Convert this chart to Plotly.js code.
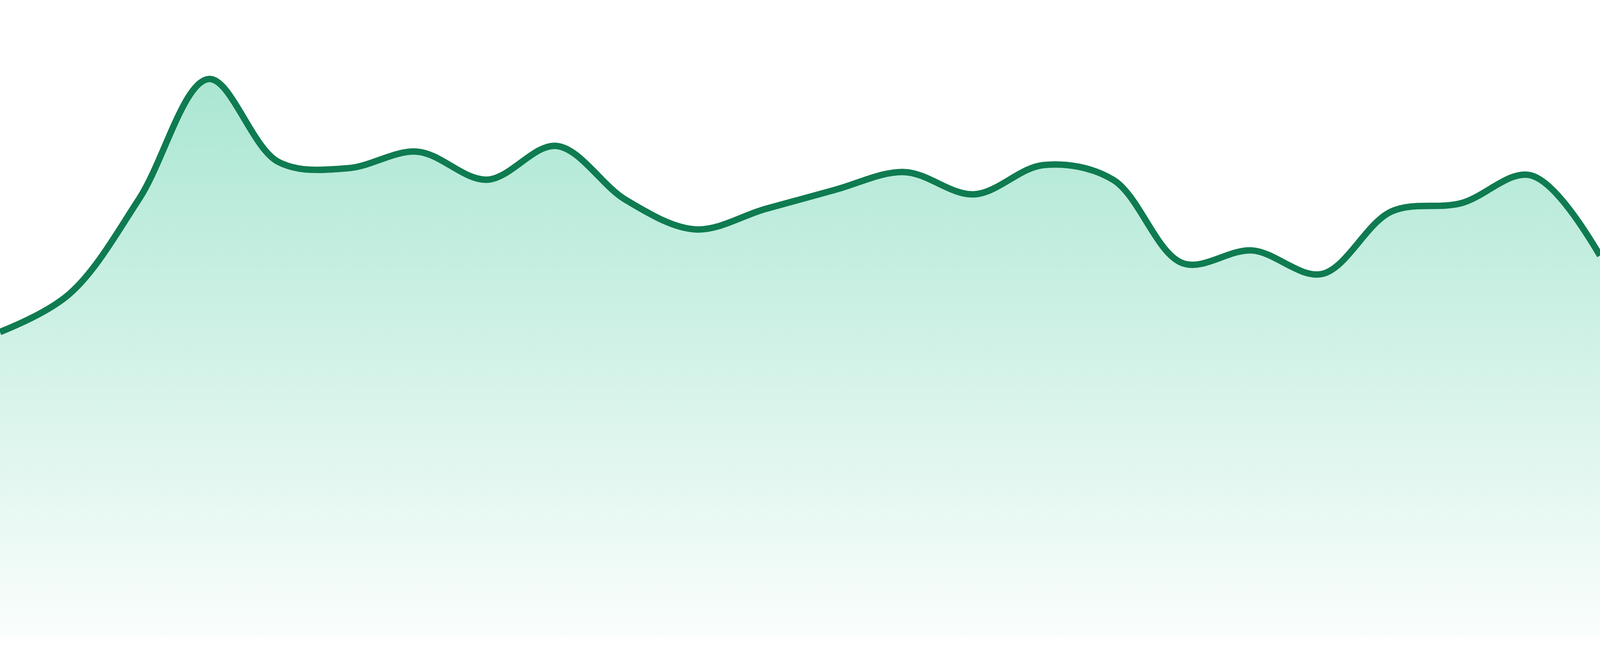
<!DOCTYPE html>
<html>
<head>
<meta charset="utf-8">
<script src="https://cdn.plot.ly/plotly-3.0.1.min.js"></script>
<style>
  html, body { margin: 0; padding: 0; background: #ffffff; overflow: hidden; }
  #chart { width: 100vw; height: 100vh; }
</style>
</head>
<body>
<div id="chart"></div>
<script>
// hourly readings, one per hour
var hours = ['00:00','01:00','02:00','03:00','04:00','05:00','06:00','07:00',
             '08:00','09:00','10:00','11:00','12:00','13:00','14:00','15:00',
             '16:00','17:00','18:00','19:00','20:00','21:00','22:00','23:00'];
var values = [47.9, 53.9, 68.8, 87.6, 74.6, 73.6, 76.2, 71.8,
              77.1, 68.6, 64.0, 67.2, 70.2, 73.0, 69.5, 74.1,
              71.8, 58.7, 60.7, 57.0, 66.8, 68.1, 72.5, 59.9];
var yMax = 100;

var lineColor = '#0f7b51';

// the window is not always 4800 wide, so size off the real one
var W = window.innerWidth;
var H = window.innerHeight;
var k = H / 1680;

var trace = {
  x: hours,
  y: values,
  type: 'scatter',
  mode: 'lines',
  line: { color: lineColor, width: 16.5 * k, shape: 'spline', smoothing: 1 },
  fill: 'tozeroy',
  fillgradient: {
    type: 'vertical',
    start: 0,
    stop: yMax,
    colorscale: [[0, 'rgba(16,185,129,0.02)'], [1, 'rgba(16,185,129,0.40)']]
  },
  hoverinfo: 'skip'
};

var layout = {
  width: W,
  height: H,
  margin: { l: 0, r: 0, t: 0, b: Math.round(48 * k), pad: 0 },
  paper_bgcolor: '#ffffff',
  plot_bgcolor: '#ffffff',
  showlegend: false,
  xaxis: { type: 'category', range: [0, hours.length - 1], visible: false, fixedrange: true },
  yaxis: { range: [0, yMax], visible: false, fixedrange: true }
};

Plotly.newPlot('chart', [trace], layout, { staticPlot: true, displayModeBar: false });
</script>
</body>
</html>
